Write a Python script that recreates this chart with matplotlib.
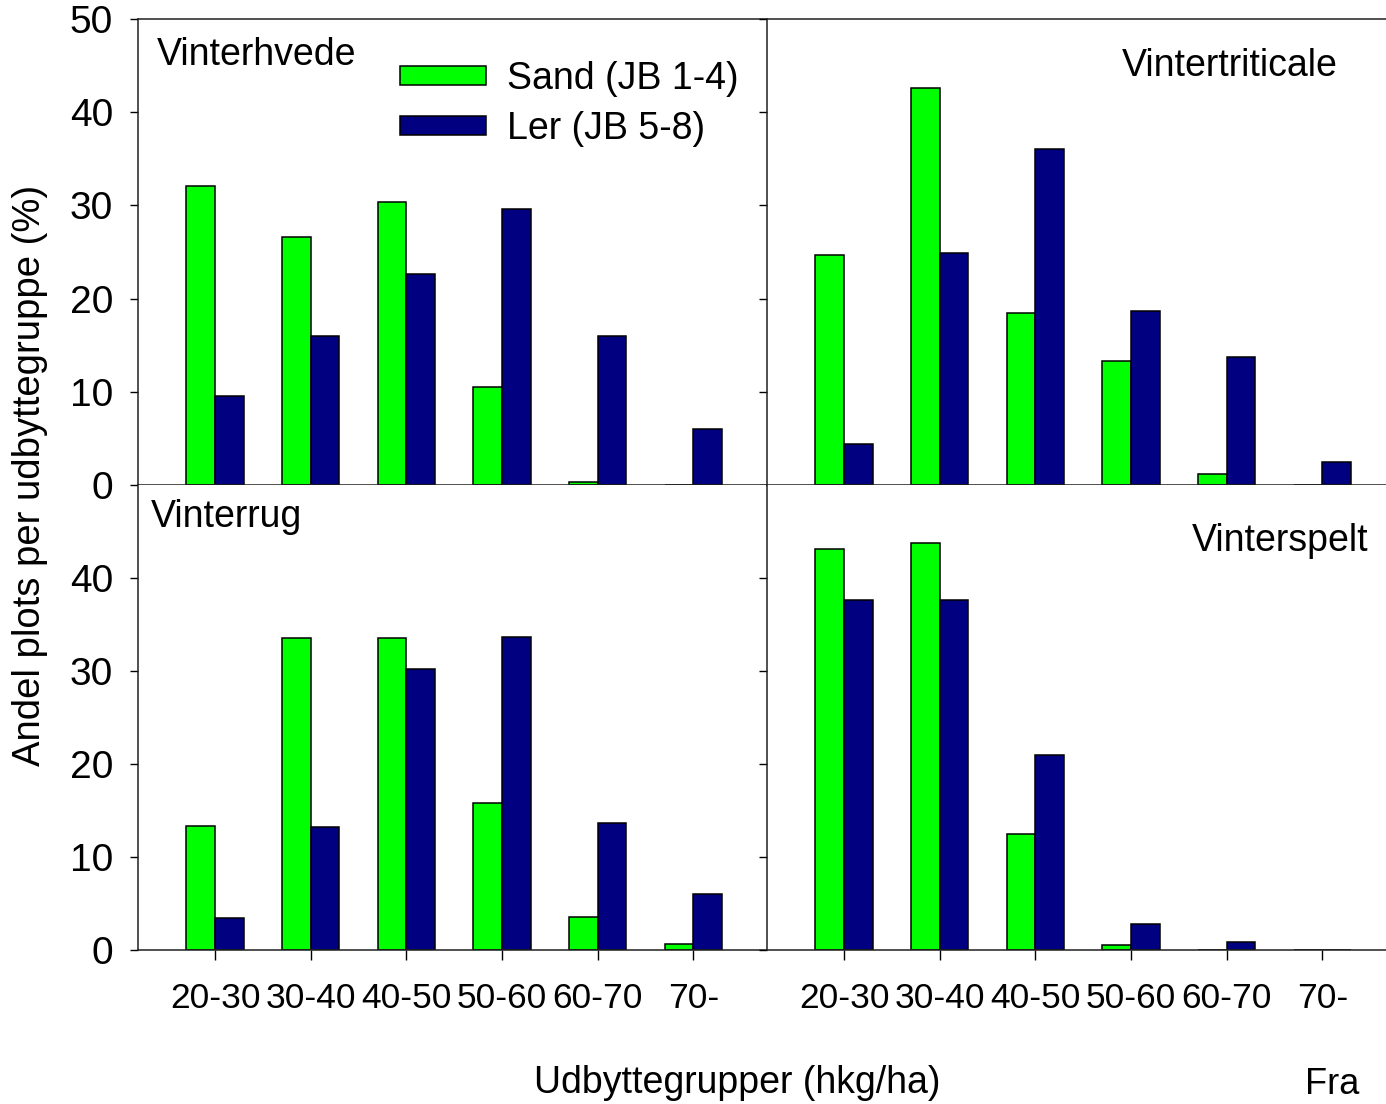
import numpy as np
import matplotlib
matplotlib.use("Agg")
import matplotlib.pyplot as plt

plt.rcParams['font.family'] = ['Liberation Sans', 'DejaVu Sans']
plt.rcParams['font.size'] = 27

# Data (percent of plots per yield group)
groups = ['20-30', '30-40', '40-50', '50-60', '60-70', '70-']
series_names = ['Sand (JB 1-4)', 'Ler (JB 5-8)']

hvede_sand = [32.1, 26.6, 30.4, 10.5, 0.3, 0.0]
hvede_ler = [9.6, 16.0, 22.6, 29.6, 16.0, 6.0]

triticale_sand = [24.7, 42.6, 18.5, 13.3, 1.2, 0.0]
triticale_ler = [4.4, 24.9, 36.1, 18.7, 13.7, 2.5]

rug_sand = [13.3, 33.5, 33.5, 15.8, 3.5, 0.6]
rug_ler = [3.4, 13.2, 30.2, 33.7, 13.7, 6.0]

spelt_sand = [43.1, 43.8, 12.5, 0.5, 0.0, 0.0]
spelt_ler = [37.6, 37.6, 21.0, 2.8, 0.9, 0.0]

green = '#00ff00'
navy = '#000080'

W, H = 1386, 1104
fig = plt.figure(figsize=(W / 100, H / 100), dpi=100)


def px_axes(x0, y0, x1, y1):
    # axes from pixel box (top-left origin)
    return fig.add_axes([x0 / W, 1 - y1 / H, (x1 - x0) / W, (y1 - y0) / H])


ax_tl = px_axes(138, 19, 766, 485)
ax_tr = px_axes(767, 19, 1395, 485)
ax_bl = px_axes(138, 485, 766, 950)
ax_br = px_axes(767, 485, 1395, 950)

panels = [
    (ax_tl, hvede_sand, hvede_ler, 'Vinterhvede', 0.030, 0.923, 'left'),
    (ax_tr, triticale_sand, triticale_ler, 'Vintertriticale', 0.909, 0.899, 'right'),
    (ax_bl, rug_sand, rug_ler, 'Vinterrug', 0.021, 0.931, 'left'),
    (ax_br, spelt_sand, spelt_ler, 'Vinterspelt', 0.957, 0.880, 'right'),
]

x = np.arange(len(groups))
bw = 0.3

for ax, sand, ler, title, tx, ty, ha in panels:
    ax.bar(x - bw / 2, sand, bw, color=green, edgecolor='black', linewidth=1.1,
           label=series_names[0])
    ax.bar(x + bw / 2, ler, bw, color=navy, edgecolor='black', linewidth=1.1,
           label=series_names[1])
    ax.set_xlim(-0.805, 5.76)
    ax.set_ylim(0, 50)
    ax.text(tx, ty, title, transform=ax.transAxes, ha=ha, va='center', fontsize=27)
    ax.spines['right'].set_visible(False)
    for s in ax.spines.values():
        s.set_linewidth(1.1)
        s.set_color('#202020')
    ax.tick_params(axis='y', direction='out', length=6, width=1.0, labelsize=28, pad=12)
    ax.tick_params(axis='x', direction='out', length=7, width=1.0, labelsize=25.5, pad=16)

# top row: no x ticks
for ax in (ax_tl, ax_tr):
    ax.set_xticks([])
for ax in (ax_bl, ax_br):
    ax.set_xticks(x)
    ax.set_xticklabels(groups)
    ax.spines['top'].set_visible(False)

ax_tl.set_yticks([0, 10, 20, 30, 40, 50])
ax_bl.set_yticks([0, 10, 20, 30, 40])
ax_tr.set_yticks([0, 10, 20, 30, 40, 50])
ax_br.set_yticks([0, 10, 20, 30, 40])
for ax in (ax_tr, ax_br):
    ax.set_yticklabels([])

ax_tl.legend(loc='upper left', bbox_to_anchor=(0.417, 0.91), frameon=False,
             handlelength=2.3, handleheight=0.4, handletextpad=0.55,
             labelspacing=0.38, borderpad=0, borderaxespad=0, fontsize=27)

fig.text(30 / W, 1 - 475 / H, 'Andel plots per udbyttegruppe (%)', rotation=90,
         ha='center', va='center', fontsize=27.5)
fig.text(737 / W, 1 - 1083 / H, 'Udbyttegrupper (hkg/ha)', ha='center', va='center',
         fontsize=27)
fig.text(1305 / W, 2 / H, 'Fra', ha='left', va='bottom', fontsize=26)

fig.savefig('out.png', dpi=100)
